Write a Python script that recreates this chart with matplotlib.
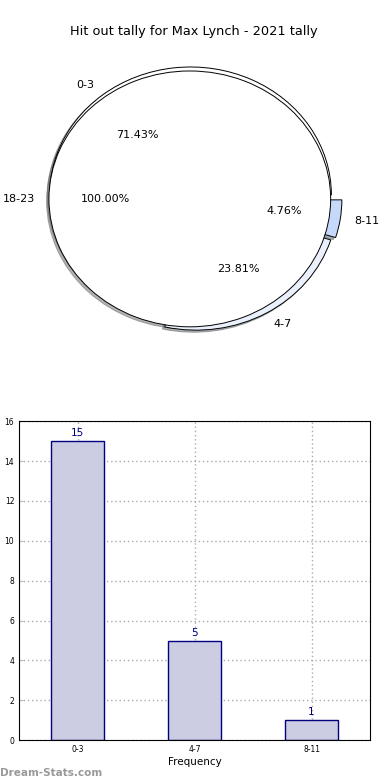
import numpy as np
import matplotlib
matplotlib.use("Agg")
import matplotlib.pyplot as plt

# data
labels = ["0-3", "4-7", "8-11"]
counts = [15, 5, 1]
pie_colors = ["#ffffff", "#eaf1fd", "#c6d9fb"]
explode = [0.04, 0.03, 0.05]
rest_label = "18-23"
rest_value = [1]
title = "Hit out tally for Max Lynch - 2021 tally"

fig = plt.figure(figsize=(3.9, 7.8), dpi=100)

shadow = dict(ox=-0.012, oy=-0.012, shade=0.6)
wp = dict(edgecolor="black", linewidth=0.7)

# ---- pie ----
ax1 = fig.add_axes([0.046, 0.540, 0.903, 0.410])
ax1.pie(counts, labels=labels, colors=pie_colors, explode=explode,
        autopct="%.2f%%", shadow=shadow, startangle=0, labeldistance=1.1,
        wedgeprops=wp, textprops=dict(fontsize=8))
# the last bucket ends up drawn as a full circle on top
ax1.pie(rest_value, labels=[rest_label], colors=["white"], explode=[0.03],
        autopct="%.2f%%", shadow=shadow, startangle=0, labeldistance=1.1,
        wedgeprops=wp, textprops=dict(fontsize=8))
ax1.set_aspect("auto")
ax1.set_xlim(-1.25, 1.25)
ax1.set_ylim(-1.25, 1.25)
ax1.set_title(title, fontsize=9.3, pad=3)

# ---- bars ----
ax2 = fig.add_axes([0.049, 0.051, 0.900, 0.409])
x = np.arange(len(labels))
bars = ax2.bar(x, counts, width=0.45, color="#cccde3", edgecolor="navy",
               linewidth=1.0, zorder=2)
for b, v in zip(bars, counts):
    ax2.text(b.get_x() + b.get_width() / 2, v + 0.15, str(v), ha="center",
             va="bottom", color="navy", fontsize=7.5)
ax2.set_xlim(-0.5, 2.5)
ax2.set_ylim(0, 16)
ax2.set_xticks(x)
ax2.set_xticklabels(labels)
ax2.set_yticks(range(0, 17, 2))
ax2.tick_params(labelsize=5.5, direction="in", length=3, color="#bbbbbb")
ax2.grid(True, linestyle=(0, (1, 2)), color="#aaaaaa", linewidth=1.0, zorder=3)
ax2.set_xlabel("Frequency", fontsize=7.5, labelpad=2)
ax2.set_ylabel("Distribution", fontsize=7.5)
ax2.yaxis.set_label_coords(-0.05, 0.5)

fig.text(0.0, 0.003, "Dream-Stats.com", fontsize=7.5, color="#999999",
         fontweight="bold", ha="left", va="bottom")

fig.savefig("out.png", dpi=100)
